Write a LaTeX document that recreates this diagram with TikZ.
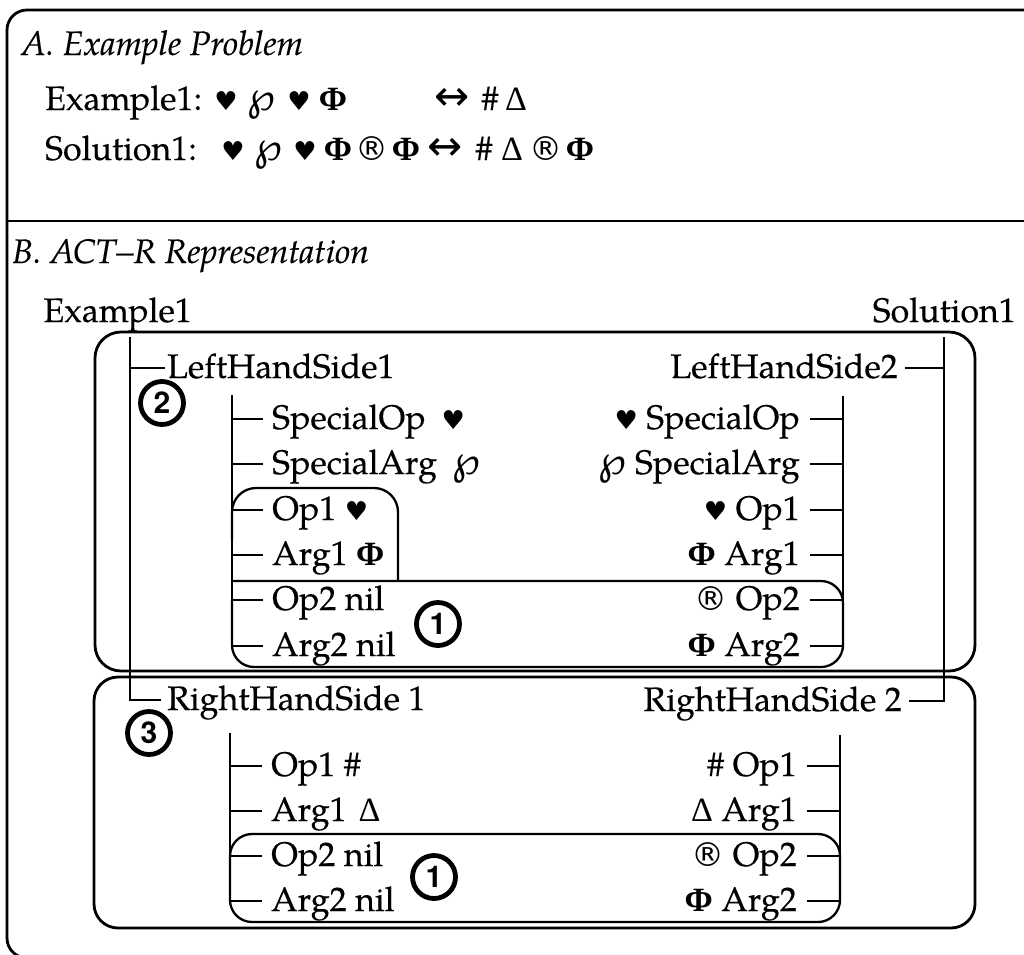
\documentclass[tikz,border=0pt]{standalone}
\usepackage{fontspec}
\setmainfont{TeX Gyre Pagella}[UprightFeatures={FakeBold=0.3}, ItalicFeatures={FakeBold=0.3}]
\newfontfamily\symfont{DejaVu Sans}
\newfontfamily\grkfont{Liberation Serif}
\newfontfamily\badgefont{TeX Gyre Heros}
\usetikzlibrary{calc}

% symbols used in the problem strings
\newcommand{\hrt}{{\symfont\fontsize{26}{26}\selectfont\char"2665}}
\newcommand{\regd}{{\symfont\fontsize{33}{33}\selectfont\char"00AE}}
\newcommand{\Phib}{{\grkfont\bfseries\char"03A6}}
\newcommand{\wpx}{{\symfont\fontsize{40}{40}\selectfont\char"2118}}
\newcommand{\Dlt}{{\grkfont\char"0394}}
\newcommand{\lra}{{\symfont\fontsize{42}{42}\selectfont\char"2194}}

\tikzset{
  lbl/.style={inner sep=0pt, font=\fontsize{34}{40}\selectfont},
  ital/.style={inner sep=0pt, font=\fontsize{34}{40}\selectfont\itshape},
  sym/.style={lbl, anchor=base},
  tree/.style={line width=2.3pt},
  frame/.style={line width=2.8pt},
  badge/.style={circle, draw, line width=4.8pt, minimum size=43pt, inner sep=0pt,
                font=\badgefont\bfseries\fontsize{30}{30}\selectfont},
}

\begin{document}
\begin{tikzpicture}[x=1pt, y=-1pt]
\useasboundingbox (0,0) rectangle (1024,954);
\clip (0,0) rectangle (1024,954);

% outer frame and divider
\draw[frame, rounded corners=20] (1040,10) -- (7,10) -- (7,958) -- (1040,958);
\draw[frame] (7,221) -- (1040,221);

% ---- A. Example problem
\node[ital, anchor=base west] (titA) at (21,55) {A. Example Problem};
\node[lbl, anchor=base west] (exA) at (45,110) {Example1:};
\foreach \x/\s [count=\i] in {226/\hrt, 261/\wpx, 299/\hrt, 333/\Phib, 452/\lra, 490/\#, 516/\Dlt}
  \node[sym] (exs\i) at (\x,110) {\s};
\node[lbl, anchor=base west] (slA) at (45,160) {Solution1:};
\foreach \x/\s [count=\i] in {233/\hrt, 268/\wpx, 305/\hrt, 338/\Phib, 372/\regd, 406/\Phib, 445/\lra, 484/\#, 512/\Dlt, 546/\regd, 580/\Phib}
  \node[sym] (sls\i) at (\x,160) {\s};

% ---- B. ACT-R representation
\node[ital, anchor=base west] (titB) at (12,263) {B. ACT--R Representation};
\node[lbl, anchor=base east] (exB) at (192,322) {Example1};
\node[lbl, anchor=base east] (slB) at (1016,322) {Solution1};

% group boxes
\draw[frame, rounded corners=26] (95,332) rectangle (975,671);
\draw[frame, rounded corners=24] (94,677) rectangle (975,928);

% chunk slots; every slot gets a tick point 10pt above its baseline
\node[lbl, anchor=base west] (lhs1) at (167,378) {LeftHandSide1};
\node[lbl, anchor=base west] (rhs1) at (167,710) {RightHandSide 1};
\node[lbl, anchor=base east] (lhs2) at (898,378) {LeftHandSide2};
\node[lbl, anchor=base east] (rhs2) at (902,711) {RightHandSide 2};
\coordinate (lhs1t) at ([xshift=-2pt,yshift=10pt]lhs1.base west);
\coordinate (rhs1t) at ([xshift=-6pt,yshift=10pt]rhs1.base west);
\coordinate (lhs2t) at ([xshift=7pt,yshift=10pt]lhs2.base east);
\coordinate (rhs2t) at ([xshift=7pt,yshift=10pt]rhs2.base east);

\coordinate (exTop) at (130,337);
\coordinate (slTop) at (944,337);
\draw[tree] (exTop) -- (exTop |- rhs1t) -- (rhs1t);
\draw[tree] (exTop |- lhs1t) -- (lhs1t);
\draw[tree] (slTop) -- (slTop |- rhs2t) -- (rhs2t);
\draw[tree] (slTop |- lhs2t) -- (lhs2t);

% left-hand sides
\foreach \y/\t [count=\i] in {419/SpecialOp\hspace{16pt}\hrt, 464/SpecialArg\hspace{16pt}\wpx,
    510/Op1 \hrt, 555/Arg1 \Phib, 600/Op2 nil, 646/Arg2 nil} {
  \node[lbl, anchor=base west] (ul\i) at (272,\y+10) {\t};
  \coordinate (ult\i) at ([xshift=-9pt,yshift=10pt]ul\i.base west);
}
\foreach \y/\t [count=\i] in {419/\hrt{} SpecialOp, 464/\wpx{} SpecialArg,
    510/\hrt{} Op1, 555/\Phib{} Arg1, 600/\regd{} Op2, 646/\Phib{} Arg2} {
  \node[lbl, anchor=base east] (ur\i) at (800,\y+10) {\t};
  \coordinate (urt\i) at ([xshift=10pt,yshift=10pt]ur\i.base east);
}
\coordinate (ulTop) at (232,395);
\coordinate (urTop) at (843,396);
\draw[tree] (ulTop) -- (ulTop |- ult6);
\draw[tree] (urTop) -- (urTop |- urt6);
\foreach \i in {1,...,6} {
  \draw[tree] (ulTop |- ult\i) -- (ult\i);
  \draw[tree] (urTop |- urt\i) -- (urt\i);
}

% right-hand sides
\foreach \y/\t [count=\i] in {766/Op1 \#, 811/Arg1\hspace{12pt}\Dlt, 856/Op2 nil, 901/Arg2 nil} {
  \node[lbl, anchor=base west] (ll\i) at (271,\y+10) {\t};
  \coordinate (llt\i) at ([xshift=-9pt,yshift=10pt]ll\i.base west);
}
\foreach \y/\t [count=\i] in {766/\#{} Op1, 811/\Dlt{} Arg1, 856/\regd{} Op2, 901/\Phib{} Arg2} {
  \node[lbl, anchor=base east] (lr\i) at (797,\y+10) {\t};
  \coordinate (lrt\i) at ([xshift=10pt,yshift=10pt]lr\i.base east);
}
\coordinate (llTop) at (230,733);
\coordinate (lrTop) at (840,735);
\draw[tree] (llTop) -- (llTop |- llt4);
\draw[tree] (lrTop) -- (lrTop |- lrt4);
\foreach \i in {1,...,4} {
  \draw[tree] (llTop |- llt\i) -- (llt\i);
  \draw[tree] (lrTop |- lrt\i) -- (lrt\i);
}

% grouping outlines
\draw[tree, rounded corners=24] (232,540) -- (232,488) -- (398,488) -- (398,581);
\draw[tree, rounded corners=22] (232,581) -- (843,581) -- (843,667) -- (232,667) -- (232,600);
\draw[tree, rounded corners=22] (230,834) rectangle (840,922);

% numbered markers
\node[badge, fill=white] (b2) at (162,403) {2};
\node[badge, fill=white] (b3) at (149,733) {3};
\node[badge] (b1u) at (438,624) {1};
\node[badge] (b1l) at (434,877) {1};
\end{tikzpicture}
\end{document}
